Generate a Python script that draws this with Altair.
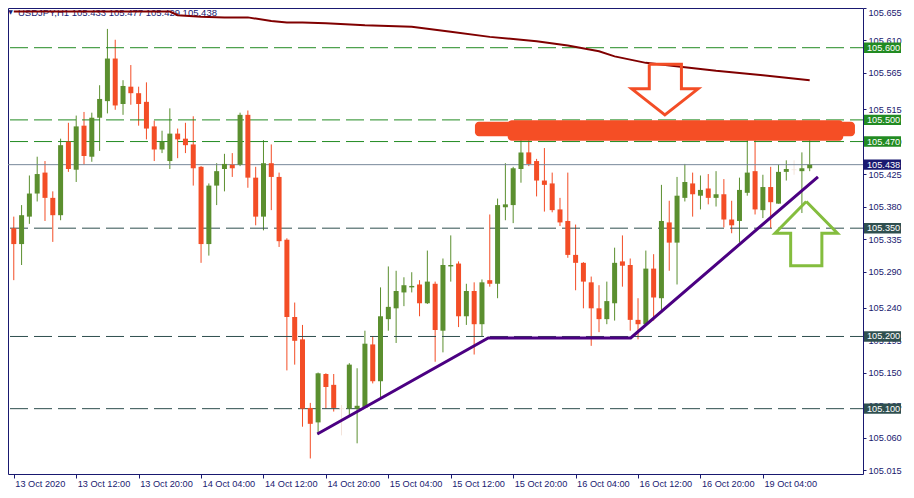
import altair as alt
import pandas as pd

# ---------------- data ----------------
open_ = [105.350, 105.328, 105.366, 105.398, 105.427, 105.392, 105.368, 105.470, 105.431, 105.492,
         105.449, 105.503, 105.526, 105.585, 105.522, 105.546, 105.537, 105.525, 105.491, 105.459,
         105.443, 105.481, 105.474, 105.466, 105.435, 105.328, 105.409, 105.432, 105.438, 105.438,
         105.507, 105.420, 105.366, 105.440, 105.421, 105.334, 105.227, 105.196, 105.101, 105.081,
         105.148, 105.133, 105.100, 105.100, 105.100, 105.101, 105.189, 105.138, 105.224, 105.239,
         105.261, 105.268, 105.272, 105.246, 105.273, 105.208, 105.297, 105.301, 105.228, 105.263,
         105.217, 105.278, 105.273, 105.379, 105.382, 105.432, 105.455, 105.443, 105.416, 105.412,
         105.376, 105.360, 105.313, 105.302, 105.275, 105.239, 105.224, 105.246, 105.304, 105.299,
         105.223, 105.217, 105.294, 105.253, 105.358, 105.330, 105.392, 105.412, 105.395, 105.405,
         105.392, 105.397, 105.362, 105.360, 105.399, 105.429, 105.375, 105.407, 105.384, 105.428,
         105.431, 105.429, 105.433]
high = [105.366, 105.382, 105.423, 105.449, 105.443, 105.401, 105.474, 105.496, 105.506, 105.511,
        105.510, 105.548, 105.626, 105.611, 105.555, 105.576, 105.546, 105.552, 105.499, 105.485,
        105.516, 105.488, 105.496, 105.505, 105.436, 105.412, 105.440, 105.453, 105.454, 105.510,
        105.513, 105.435, 105.472, 105.466, 105.427, 105.336, 105.247, 105.216, 105.108, 105.150,
        105.149, 105.148, 105.105, 105.163, 105.156, 105.208, 105.200, 105.268, 105.297, 105.291,
        105.282, 105.289, 105.278, 105.319, 105.276, 105.308, 105.340, 105.304, 105.273, 105.275,
        105.279, 105.369, 105.391, 105.440, 105.435, 105.492, 105.491, 105.446, 105.461, 105.427,
        105.392, 105.427, 105.355, 105.303, 105.283, 105.271, 105.276, 105.323, 105.340, 105.308,
        105.253, 105.319, 105.314, 105.410, 105.388, 105.421, 105.439, 105.427, 105.423, 105.425,
        105.429, 105.418, 105.388, 105.420, 105.473, 105.499, 105.424, 105.435, 105.438, 105.444,
        105.444, 105.455, 105.477]
low = [105.278, 105.299, 105.356, 105.387, 105.360, 105.331, 105.361, 105.428, 105.414, 105.438,
       105.442, 105.457, 105.509, 105.514, 105.507, 105.521, 105.492, 105.473, 105.443, 105.454,
       105.432, 105.447, 105.454, 105.409, 105.302, 105.312, 105.382, 105.401, 105.421, 105.436,
       105.406, 105.354, 105.347, 105.375, 105.324, 105.153, 105.161, 105.075, 105.031, 105.064,
       105.100, 105.096, 105.063, 105.090, 105.052, 105.101, 105.135, 105.115, 105.208, 105.191,
       105.242, 105.261, 105.228, 105.245, 105.165, 105.178, 105.276, 105.213, 105.216, 105.175,
       105.200, 105.269, 105.253, 105.361, 105.357, 105.413, 105.436, 105.394, 105.373, 105.372,
       105.353, 105.309, 105.264, 105.239, 105.187, 105.206, 105.217, 105.222, 105.269, 105.208,
       105.196, 105.216, 105.222, 105.233, 105.291, 105.272, 105.387, 105.366, 105.376, 105.383,
       105.380, 105.351, 105.343, 105.330, 105.395, 105.369, 105.364, 105.350, 105.384, 105.416,
       105.424, 105.371, 105.429]
close = [105.328, 105.368, 105.398, 105.425, 105.392, 105.368, 105.465, 105.432, 105.491, 105.450,
         105.503, 105.529, 105.585, 105.520, 105.547, 105.537, 105.522, 105.488, 105.459, 105.470,
         105.481, 105.473, 105.465, 105.433, 105.328, 105.409, 105.429, 105.439, 105.433, 105.507,
         105.420, 105.366, 105.440, 105.421, 105.332, 105.227, 105.194, 105.100, 105.079, 105.149,
         105.130, 105.101, 105.100, 105.161, 105.104, 105.190, 105.138, 105.228, 105.241, 105.263,
         105.271, 105.270, 105.246, 105.276, 105.209, 105.299, 105.299, 105.228, 105.263, 105.217,
         105.275, 105.273, 105.382, 105.383, 105.433, 105.455, 105.439, 105.416, 105.410, 105.375,
         105.358, 105.313, 105.302, 105.276, 105.239, 105.224, 105.249, 105.302, 105.298, 105.223,
         105.217, 105.294, 105.254, 105.360, 105.330, 105.395, 105.414, 105.397, 105.403, 105.392,
         105.397, 105.362, 105.354, 105.403, 105.427, 105.376, 105.407, 105.386, 105.428, 105.432,
         105.431, 105.433, 105.438]

symbol = "USDJPY"
timeframe = "H1"

x_tick_idx = [0, 8, 16, 24, 32, 40, 48, 56, 64, 72, 80, 88, 96]
x_tick_labels = ["13 Oct 2020", "13 Oct 12:00", "13 Oct 20:00", "14 Oct 04:00", "14 Oct 12:00",
                 "14 Oct 20:00", "15 Oct 04:00", "15 Oct 12:00", "15 Oct 20:00", "16 Oct 04:00",
                 "16 Oct 12:00", "16 Oct 20:00", "19 Oct 04:00"]
y_tick_values = [105.655, 105.610, 105.565, 105.515, 105.470, 105.425, 105.380, 105.335,
                 105.290, 105.240, 105.195, 105.150, 105.105, 105.060, 105.015]

# moving average (dark red line)
ma_idx = [0, 20, 21, 24, 27, 30, 33, 35, 37, 40, 45, 51, 56, 61, 67, 71, 75, 77, 81, 86, 90, 96, 102]
ma_val = [105.650, 105.650, 105.645, 105.643, 105.642, 105.642, 105.637, 105.635, 105.635, 105.634,
          105.631, 105.629, 105.622, 105.615, 105.609, 105.603, 105.595, 105.588, 105.579, 105.573,
          105.568, 105.562, 105.555]

# horizontal levels
levels = [105.600, 105.500, 105.470, 105.350, 105.200, 105.100]
level_colors = ["#228B22", "#228B22", "#228B22", "#2F4F4F", "#2F4F4F", "#2F4F4F"]
current_price = 105.438

# purple support line
trend_idx = [38.9, 60.8, 79.06, 103.06]
trend_val = [105.065, 105.198, 105.198, 105.421]

# red resistance zone
zone_x1 = [59.1, 63.3]
zone_x2 = [107.8, 106.3]
zone_top = [105.4975, 105.4995]
zone_bottom = [105.4775, 105.4712]

# arrows (outlines)
down_idx = [81.44, 85.56, 85.56, 87.69, 83.44, 79.19, 81.44, 81.44]
down_val = [105.577, 105.577, 105.543, 105.543, 105.507, 105.543, 105.543, 105.577]
up_idx = [101.56, 105.56, 103.56, 103.56, 99.56, 99.56, 97.56, 101.56]
up_val = [105.387, 105.343, 105.343, 105.298, 105.298, 105.343, 105.343, 105.387]

# ---------------- styling ----------------
NAVY = "#191970"
GREEN = "#5B8F2F"
RED = "#F34D26"
PALE = "#F3E3DA"
FONT = "Liberation Sans"
FS = 9.2
PW, PH = 855, 466          # plot area
PR, PB = 43, 16            # room for right / bottom axes

xs = alt.Scale(domain=[-0.1, 108.19], nice=False, zero=False)
ys = alt.Scale(domain=[105.0095, 105.655], nice=False, zero=False)

n = len(open_)
cdf = pd.DataFrame({"idx": list(range(n)), "o": open_, "h": high, "l": low, "c": close})
cdf["col"] = [GREEN if c > o else (RED if c < o else PALE) for o, c in zip(open_, close)]

x_label_expr = ("[" + ",".join("'%s'" % s for s in x_tick_labels) + "][indexof(["
                + ",".join(str(v) for v in x_tick_idx) + "], datum.value)]")

x_axis = alt.Axis(values=x_tick_idx, labelExpr=x_label_expr, title=None, grid=False, domain=False,
                  tickColor=NAVY, tickSize=4, labelAlign="left", labelBaseline="top", labelPadding=1,
                  labelOffset=1, labelColor=NAVY, labelFont=FONT, labelFontSize=FS,
                  labelOverlap=False, labelFlush=False, labelBound=False)
y_axis = alt.Axis(orient="right", values=y_tick_values, format=".3f", title=None, grid=False,
                  domain=False, tickColor=NAVY, tickSize=3, labelPadding=2, labelColor=NAVY,
                  labelFont=FONT, labelFontSize=FS, labelOverlap=False, labelFlush=True,
                  labelBound=False)


def X(f):
    return alt.X(f, type="quantitative", scale=xs, axis=x_axis)


def Y(f):
    return alt.Y(f, type="quantitative", scale=ys, axis=y_axis)


# title text
last = cdf.iloc[-1]
title_df = pd.DataFrame({"t": ["%s,%s  %.3f %.3f %.3f %.3f" % (symbol, timeframe, last.o, last.h, last.l, last.c)]})
title_txt = alt.Chart(title_df).mark_text(align="left", baseline="top", font=FONT, fontSize=FS + 0.3,
                                          color=NAVY).encode(x=alt.value(10), y=alt.value(0), text="t:N")
tri = alt.Chart(title_df).mark_text(text="▼", align="center", baseline="middle", font="DejaVu Sans",
                                    fontSize=6, color=NAVY).encode(x=alt.value(2.5), y=alt.value(4))

# levels
lv_df = pd.DataFrame({"p": levels, "col": level_colors})
lv = alt.Chart(lv_df).mark_rule(strokeDash=[18, 6], strokeDashOffset=5, strokeWidth=1).encode(
    y=Y("p"), color=alt.Color("col:N", scale=None))
cur_df = pd.DataFrame({"p": [current_price]})
cur = alt.Chart(cur_df).mark_rule(color="#778899", strokeWidth=1).encode(y=Y("p"))

# moving average
ma_df = pd.DataFrame({"i": ma_idx, "v": ma_val})
ma = alt.Chart(ma_df).mark_line(color="#800000", strokeWidth=2).encode(x=X("i"), y=Y("v"))

# candles
base = alt.Chart(cdf)
wick = base.mark_rule(strokeWidth=1).encode(
    x=X("idx"), y=Y("l"), y2="h:Q", color=alt.Color("col:N", scale=None))
body = base.mark_bar(size=5).encode(x=X("idx"), y=Y("o"), y2="c:Q", color=alt.Color("col:N", scale=None))
doji = base.transform_filter("datum.o == datum.c").mark_tick(thickness=1, size=5, orient="horizontal").encode(
    x=X("idx"), y=Y("o"), color=alt.Color("col:N", scale=None))

# resistance zone
zone_df = pd.DataFrame({"x1": zone_x1, "x2": zone_x2, "t": zone_top, "b": zone_bottom})
zone = alt.Chart(zone_df).mark_rect(color="#F54E25", cornerRadius=4).encode(
    x=X("x1"), x2="x2:Q", y=Y("t"), y2="b:Q")

# trend line
tr_df = pd.DataFrame({"i": trend_idx, "v": trend_val, "k": list(range(len(trend_idx)))})
trend = alt.Chart(tr_df).mark_line(color="#4B0082", strokeWidth=3).encode(
    x=X("i"), y=Y("v"), order="k:Q")

# arrows
dn_df = pd.DataFrame({"i": down_idx, "v": down_val, "k": list(range(len(down_idx)))})
dn = alt.Chart(dn_df).mark_line(color="#F34D26", strokeWidth=3, strokeJoin="miter").encode(
    x=X("i"), y=Y("v"), order="k:Q")
up_df = pd.DataFrame({"i": up_idx, "v": up_val, "k": list(range(len(up_idx)))})
up = alt.Chart(up_df).mark_line(color="#84BD3E", strokeWidth=3, strokeJoin="miter").encode(
    x=X("i"), y=Y("v"), order="k:Q")

# price label boxes on the right axis
box_df = pd.DataFrame({"p": levels + [current_price], "col": level_colors + [NAVY]})
boxes = alt.Chart(box_df).transform_calculate(
    lo="datum.p - 0.0072", hi="datum.p + 0.0072").mark_rect().encode(
    x=alt.value(PW + 1), x2=alt.value(PW + 38), y=Y("lo:Q"), y2="hi:Q",
    color=alt.Color("col:N", scale=None))
box_txt = alt.Chart(box_df).mark_text(align="left", baseline="middle", font=FONT, fontSize=FS,
                                      color="white").encode(
    x=alt.value(PW + 4), y=Y("p"), text=alt.Text("p:Q", format=".3f"))

chart = alt.layer(
    wick, title_txt, tri, lv, cur, ma, body, doji, zone, trend, dn, up, boxes, box_txt
).properties(
    width=PW, height=PH,
    autosize=alt.AutoSizeParams(type="none"),
    padding={"left": 0, "top": 0, "right": PR, "bottom": PB},
    background="white",
).configure_view(stroke=NAVY, strokeWidth=1)

chart.save("out.html", embed_options={"renderer": "svg", "actions": False})
